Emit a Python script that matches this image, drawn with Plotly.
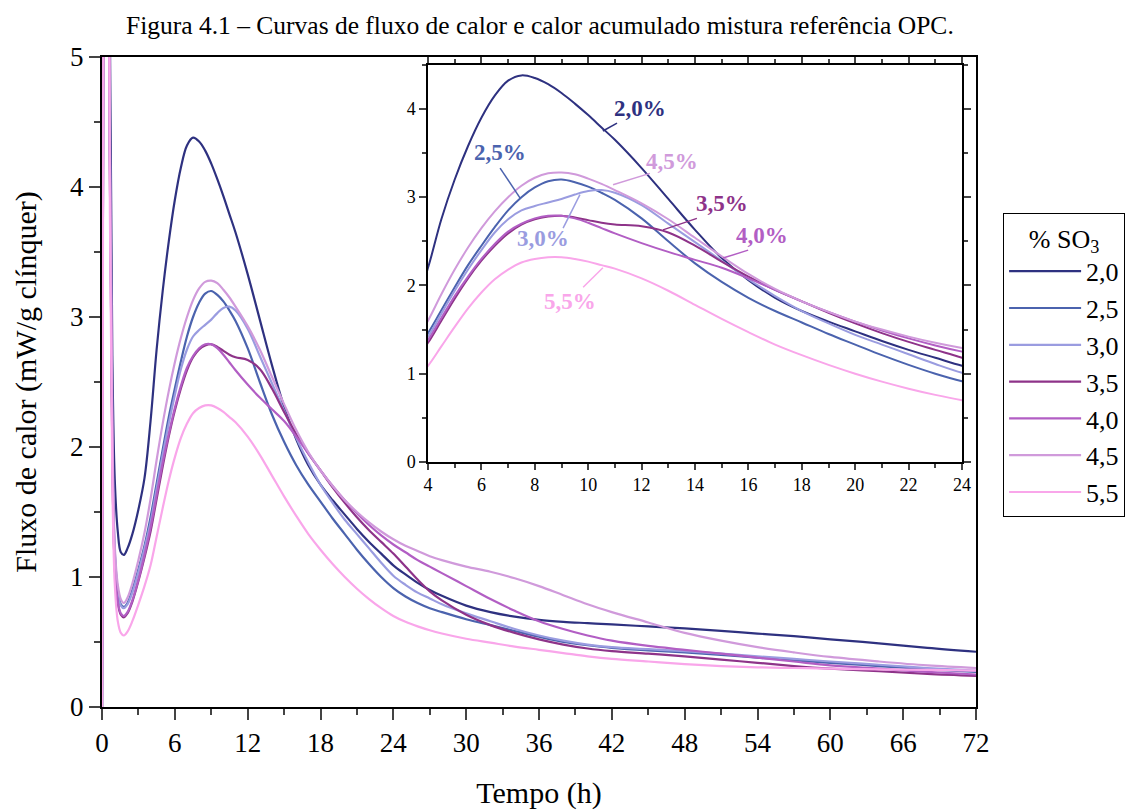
import plotly.graph_objects as go

# ---------------- data ----------------
tempo = [0, 0.1, 0.25, 0.45, 0.65, 0.85, 1.05, 1.3, 1.55, 1.8,
         2.1, 2.5, 3, 3.5, 4, 4.5, 5, 5.5, 6, 6.5,
         7, 7.5, 8, 8.5, 9, 9.5, 10, 10.5, 11,
         12, 13, 14, 15, 16, 17, 18, 19, 20, 21, 22, 23, 24, 25, 26, 27, 28,
         30, 32, 34, 36, 38, 40, 42,
         45, 48, 51, 54, 57, 60,
         64, 68, 72]

so3_20 = [0, 6, 12, 10, 5.2, 2.7, 1.75, 1.35, 1.19, 1.17,
          1.22, 1.33, 1.52, 1.76, 2.2, 2.75, 3.2, 3.58, 3.9, 4.15,
          4.32, 4.38, 4.35, 4.28, 4.18, 4.06, 3.93, 3.79, 3.65,
          3.33, 2.98, 2.63, 2.31, 2.06, 1.86, 1.71, 1.59, 1.48, 1.37, 1.27, 1.18, 1.09, 1.02, 0.955, 0.9, 0.855,
          0.78, 0.73, 0.695, 0.67, 0.655, 0.645, 0.635,
          0.62, 0.605, 0.585, 0.565, 0.545, 0.52,
          0.49, 0.455, 0.425]
so3_25 = [0, 5, 11, 9, 4.3, 2.1, 1.2, 0.9, 0.79, 0.77,
          0.8, 0.9, 1.06, 1.24, 1.46, 1.72, 1.98, 2.23, 2.45, 2.66,
          2.85, 3.0, 3.11, 3.18, 3.2, 3.17, 3.12, 3.05, 2.97,
          2.76, 2.5, 2.25, 2.04, 1.86, 1.71, 1.58, 1.45, 1.33, 1.21, 1.1, 1.0, 0.915, 0.85, 0.8, 0.76, 0.73,
          0.675, 0.63, 0.585, 0.54, 0.5, 0.475, 0.455,
          0.435, 0.42, 0.4, 0.38, 0.36, 0.34,
          0.315, 0.29, 0.27]
so3_30 = [0, 5, 11, 9, 4.3, 2.1, 1.18, 0.88, 0.78, 0.76,
          0.79, 0.88, 1.04, 1.22, 1.42, 1.68, 1.94, 2.18, 2.4, 2.6,
          2.75, 2.85, 2.9, 2.94, 2.98, 3.03, 3.07, 3.08, 3.05,
          2.91, 2.7, 2.49, 2.28, 2.07, 1.88, 1.71, 1.57, 1.44, 1.33, 1.22, 1.11, 1.01, 0.94, 0.88, 0.835, 0.79,
          0.72, 0.66, 0.6, 0.55, 0.51, 0.48, 0.46,
          0.445, 0.43, 0.41, 0.39, 0.37, 0.35,
          0.325, 0.3, 0.28]
so3_35 = [0, 5, 11, 9, 4.1, 1.95, 1.08, 0.8, 0.71, 0.69,
          0.72, 0.81, 0.97, 1.15, 1.35, 1.6, 1.85, 2.08, 2.28, 2.45,
          2.59, 2.69, 2.75, 2.78, 2.79, 2.77, 2.74, 2.71, 2.69,
          2.67, 2.6, 2.45, 2.27, 2.1, 1.95, 1.82, 1.69, 1.57, 1.46, 1.36, 1.27, 1.18, 1.08, 0.98, 0.89, 0.82,
          0.71, 0.63, 0.57, 0.52, 0.48, 0.45, 0.43,
          0.41, 0.39, 0.365, 0.34, 0.315, 0.295,
          0.275, 0.255, 0.24]
so3_40 = [0, 5, 11, 9, 4.1, 1.95, 1.08, 0.81, 0.72, 0.7,
          0.73, 0.82, 0.98, 1.17, 1.38, 1.63, 1.88, 2.1, 2.3, 2.47,
          2.61, 2.7, 2.76, 2.79, 2.79, 2.76, 2.71, 2.65, 2.59,
          2.48, 2.38, 2.29, 2.2, 2.08, 1.95, 1.82, 1.7, 1.59, 1.49, 1.4, 1.32, 1.25, 1.19, 1.13, 1.08, 1.03,
          0.93, 0.83, 0.74, 0.66, 0.6, 0.55, 0.51,
          0.47, 0.44, 0.41, 0.38, 0.35, 0.32,
          0.295, 0.27, 0.25]
so3_45 = [0, 5, 11, 9, 4.4, 2.2, 1.25, 0.94, 0.83, 0.8,
          0.84, 0.95, 1.13, 1.34, 1.6, 1.9, 2.18, 2.43, 2.65, 2.84,
          3.0, 3.13, 3.22, 3.27, 3.28, 3.26, 3.21, 3.15, 3.08,
          2.93, 2.75, 2.54, 2.33, 2.13, 1.96, 1.82, 1.7, 1.59, 1.5, 1.42, 1.35, 1.29, 1.24, 1.2, 1.16, 1.13,
          1.08, 1.04, 0.99, 0.93, 0.86, 0.79, 0.73,
          0.65, 0.57, 0.51, 0.46, 0.42, 0.385,
          0.35, 0.32, 0.3]
so3_55 = [0, 4.5, 10, 8.5, 3.8, 1.75, 0.95, 0.66, 0.57, 0.55,
          0.58, 0.66, 0.79, 0.93, 1.09, 1.31, 1.53, 1.74, 1.92, 2.07,
          2.18, 2.26, 2.3, 2.32, 2.32, 2.3, 2.27, 2.23, 2.19,
          2.08, 1.94, 1.78, 1.62, 1.47, 1.33, 1.21, 1.1, 1.0, 0.91, 0.83, 0.76, 0.7, 0.655, 0.62, 0.59, 0.565,
          0.525, 0.495, 0.465, 0.44, 0.415, 0.39, 0.37,
          0.35, 0.33, 0.315, 0.305, 0.3, 0.295,
          0.29, 0.285, 0.28]

series_names = ["2,0", "2,5", "3,0", "3,5", "4,0", "4,5", "5,5"]
series_values = [so3_20, so3_25, so3_30, so3_35, so3_40, so3_45, so3_55]
colors = ["#2E3180", "#4B63AE", "#9A9CE0", "#8E3389", "#B25EC4", "#D09ADB", "#F9A6EA"]

x_ticks_main = [0, 6, 12, 18, 24, 30, 36, 42, 48, 54, 60, 66, 72]

# inset labels: (text, label t, label v, leader from t, v, leader to t, v)
inset_labels = [
    ("2,0%", 11.94, 4.01, 11.08, 3.84, 10.55, 3.75),
    ("2,5%", 6.70, 3.51, 6.70, 3.33, 7.45, 2.99),
    ("3,0%", 8.31, 2.53, 9.06, 2.65, 9.69, 3.03),
    ("3,5%", 15.01, 2.93, 14.07, 2.76, 12.80, 2.63),
    ("4,0%", 16.51, 2.57, 15.99, 2.40, 15.05, 2.31),
    ("4,5%", 13.14, 3.41, 12.31, 3.27, 10.93, 3.14),
    ("5,5%", 9.32, 1.82, 9.81, 1.98, 10.55, 2.20),
]

FONT = "Liberation Serif, Times New Roman, serif"

fig = go.Figure()

for name, vals, col in zip(series_names, series_values, colors):
    fig.add_trace(go.Scatter(x=tempo, y=vals, mode="lines", name=name,
                             line=dict(color=col, width=2.2, shape="spline", smoothing=1.0),
                             legendgroup=name, xaxis="x", yaxis="y"))
for name, vals, col in zip(series_names, series_values, colors):
    fig.add_trace(go.Scatter(x=tempo, y=vals, mode="lines", name=name, showlegend=False,
                             line=dict(color=col, width=2, shape="spline", smoothing=1.0),
                             legendgroup=name, xaxis="x2", yaxis="y2"))

label_colors = dict(zip([n + "%" for n in series_names], colors))
for txt, lt, lv, ft, fv, tt, tv in inset_labels:
    c = label_colors[txt]
    fig.add_annotation(x=lt, y=lv, xref="x2", yref="y2", text="<b>" + txt + "</b>",
                       showarrow=False, font=dict(family=FONT, size=23, color=c))
    fig.add_shape(type="line", x0=ft, y0=fv, x1=tt, y1=tv, xref="x2", yref="y2",
                  line=dict(color=c, width=1.5))

fig.update_layout(
    width=1139, height=810, autosize=False,
    margin=dict(l=102, r=163, t=57, b=103, autoexpand=False),
    paper_bgcolor="white", plot_bgcolor="white",
    font=dict(family=FONT, size=26, color="black"),
    title=dict(text="Figura 4.1 – Curvas de fluxo de calor e calor acumulado mistura referência OPC.",
               x=0.474, xanchor="center", y=0.969, yanchor="middle",
               font=dict(family=FONT, size=25.5, color="black")),
    xaxis=dict(domain=[0, 1], range=[0, 72], tickvals=x_ticks_main, ticks="outside", ticklen=11, tickwidth=2,
               showline=True, linewidth=2, linecolor="black", mirror=True, showgrid=False, zeroline=False,
               automargin=False,
               minor=dict(dtick=3, ticks="outside", ticklen=6, tickwidth=2, showgrid=False),
               title=dict(text="Tempo (h)", standoff=28, font=dict(size=30)),
               tickfont=dict(size=27)),
    yaxis=dict(domain=[0, 1], range=[0, 5], dtick=1, ticks="outside", ticklen=11, tickwidth=2,
               showline=True, linewidth=2, linecolor="black", mirror=True, showgrid=False, zeroline=False,
               automargin=False,
               minor=dict(dtick=0.5, ticks="outside", ticklen=6, tickwidth=2, showgrid=False),
               title=dict(text="Fluxo de calor (mW/g clínquer)", standoff=25, font=dict(size=30)),
               tickfont=dict(size=27)),
    xaxis2=dict(domain=[0.373, 0.984], anchor="y2", range=[4, 24], dtick=2, ticks="outside", ticklen=6,
                tickwidth=1.5, showline=True, linewidth=1.5, linecolor="black", mirror="ticks",
                showgrid=False, zeroline=False, automargin=False,
                minor=dict(dtick=1, ticks="outside", ticklen=4, tickwidth=1.5, showgrid=False),
                tickfont=dict(size=18)),
    yaxis2=dict(domain=[0.377, 0.988], anchor="x2", range=[0, 4.5], tickvals=[0, 1, 2, 3, 4], ticks="outside",
                ticklen=7, tickwidth=1.5, showline=True, linewidth=1.5, linecolor="black", mirror="ticks",
                showgrid=False, zeroline=False, automargin=False,
                minor=dict(dtick=0.5, ticks="outside", ticklen=4, tickwidth=1.5, showgrid=False),
                tickfont=dict(size=18)),
    legend=dict(x=1.031, y=0.760, xanchor="left", yanchor="top", bordercolor="black", borderwidth=1,
                bgcolor="white", font=dict(family=FONT, size=26), tracegroupgap=0, itemwidth=72,
                title=dict(text="% SO<sub>3</sub>", side="top center", font=dict(size=26))),
    showlegend=True,
)

fig.write_html("out.html")
